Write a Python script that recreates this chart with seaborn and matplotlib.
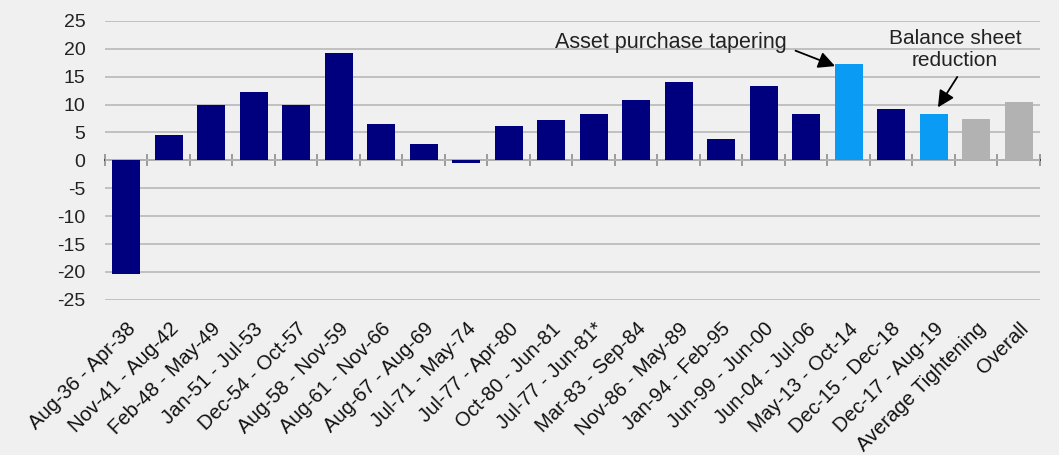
import matplotlib
matplotlib.use("Agg")
import matplotlib.pyplot as plt
import seaborn as sns
import pandas as pd

periods = ["Aug-36 - Apr-38", "Nov-41 - Aug-42", "Feb-48 - May-49", "Jan-51 - Jul-53",
           "Dec-54 - Oct-57", "Aug-58 - Nov-59", "Aug-61 - Nov-66", "Aug-67 - Aug-69",
           "Jul-71 - May-74", "Jul-77 - Apr-80", "Oct-80 - Jun-81", "Jul-77 - Jun-81*",
           "Mar-83 - Sep-84", "Nov-86 - May-89", "Jan-94 - Feb-95", "Jun-99 - Jun-00",
           "Jun-04 - Jul-06", "May-13 - Oct-14", "Dec-15 - Dec-18", "Dec-17 - Aug-19",
           "Average Tightening", "Overall"]
returns = [-20.3, 4.5, 10.0, 12.2, 10.0, 19.3, 6.6, 2.9, -0.4, 6.1, 7.3, 8.4,
           10.8, 14.0, 3.8, 13.3, 8.4, 17.2, 9.2, 8.4, 7.5, 10.5]
kind = ["Rate hike"] * 17 + ["Tapering", "Rate hike", "Balance sheet", "Average", "Average"]
palette = {"Rate hike": "#00007F", "Tapering": "#0A9BF5", "Balance sheet": "#0A9BF5",
           "Average": "#B2B2B2"}
yticks = [-25, -20, -15, -10, -5, 0, 5, 10, 15, 20, 25]

df = pd.DataFrame({"period": periods, "ret": returns, "kind": kind})

sns.set_theme(style="white")
plt.rcParams["font.family"] = ["Liberation Sans", "DejaVu Sans"]
plt.rcParams["axes.unicode_minus"] = False

fig = plt.figure(figsize=(10.59, 4.55), dpi=100, facecolor="#F0F0F0")
ax = fig.add_axes([0.099, 0.341, 0.883, 0.613])
ax.set_facecolor("#F0F0F0")

sns.barplot(data=df, x="period", y="ret", hue="kind", palette=palette, dodge=False,
            legend=False, width=0.66, order=periods, ax=ax, saturation=1,
            linewidth=0, edgecolor="none")

ax.set_ylim(-25, 25)
ax.set_xlim(-0.5, len(periods) - 0.5)
ax.set_yticks(yticks)
ax.set_yticklabels([str(v) for v in yticks], fontsize=14, color="#222222")
ax.yaxis.grid(True, color="#BDBDBD", lw=1.3)
ax.set_axisbelow(True)
for s in ax.spines.values():
    s.set_visible(False)
ax.tick_params(axis="y", length=0, pad=14)
ax.set_xlabel("")
ax.set_ylabel("")
ax.set_xticks(range(len(periods)))
ax.set_xticklabels(periods, rotation=45, ha="right", rotation_mode="anchor",
                   fontsize=14.5, color="#111111")
ax.tick_params(axis="x", length=0, pad=14)

# zero axis with category-boundary ticks
sec = ax.secondary_xaxis(0.5)
sec.set_xticks([i - 0.5 for i in range(len(periods) + 1)])
sec.set_xticklabels([])
sec.tick_params(axis="x", direction="inout", length=9, width=1.3, color="#959595")
sec.spines["bottom"].set_color("#8C8C8C")
sec.spines["bottom"].set_linewidth(1.6)

ax.annotate("Asset purchase tapering", xy=(16.68, 16.9), xytext=(15.55, 21.2),
            ha="right", va="center", fontsize=15.5, color="#222222",
            arrowprops=dict(arrowstyle="-|>", color="black", lw=1.3,
                            mutation_scale=25, shrinkA=4, shrinkB=0,
                            relpos=(1.0, 0.25)))
ax.annotate("Balance sheet\nreduction", xy=(19.1, 9.5), xytext=(19.5, 19.85),
            ha="center", va="center", fontsize=15, color="#222222", linespacing=1.2,
            arrowprops=dict(arrowstyle="-|>", color="black", lw=1.3,
                            mutation_scale=25, shrinkA=3, shrinkB=0,
                            relpos=(0.55, 0.0)))

fig.savefig("out.png", dpi=100, facecolor=fig.get_facecolor())
